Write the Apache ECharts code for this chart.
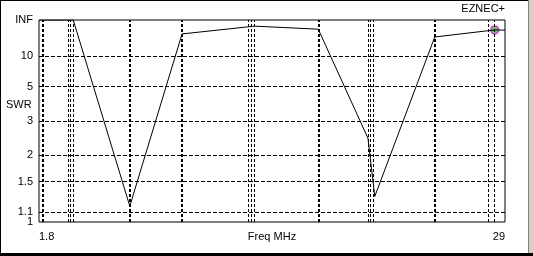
<!DOCTYPE html>
<html>
<head>
<meta charset="utf-8">
<script src="https://cdn.jsdelivr.net/npm/echarts@6/dist/echarts.min.js"></script>
<style>
html,body{margin:0;padding:0;background:#fff;}
#c{width:533px;height:256px;}
</style>
</head>
<body>
<div id="c"></div>
<script>
// ---- data ----
const freqs = [1.8, 3.8, 7.1, 10.15, 14.0, 14.35, 18.1, 21.0, 21.4, 24.9, 28.4, 29.0];
const swrValues = [Infinity, Infinity, 1.17, 28, 58, 65, 43, 2.42, 1.29, 22.8, 39.6, 39];
const markerFreq = [28.4];
const markerSwr = [39.6];
const swrTicks = [1, 1.1, 1.5, 2, 3, 5, 10, Infinity];
const swrTickLabels = ['1', '1.1', '1.5', '2', '3', '5', '10', 'INF'];
const thickBandLines = [2.0, 7.1, 10.15, 18.1, 24.9];
const thinBandLines = [3.5, 3.65, 3.8, 14.0, 14.175, 14.35, 21.0, 21.16, 21.33, 28.0, 28.4];
const xTickValues = [1.8, 29];
const xMin = 1.8, xMax = 29;

// SWR -> reflection coefficient (the chart's vertical scale)
function rho(s) { return isFinite(s) ? (s - 1) / (s + 1) : 1; }

const lineData = freqs.map((f, i) => [f, rho(swrValues[i])]);
const markerData = markerFreq.map((f, i) => [f, rho(markerSwr[i])]);
const rhoTicks = swrTicks.map(rho);

const FONT = 'Liberation Sans, Arial, sans-serif';
const tickLabelStyle = {show: true, position: 'start', distance: 6, color: '#000', fontFamily: FONT, fontSize: 11};

const chart = echarts.init(document.getElementById('c'), null, {renderer: 'canvas'});
chart.setOption({
  animation: false,
  backgroundColor: '#ffffff',
  grid: {left: 39, top: 20, width: 466, height: 202, show: true, borderColor: '#000', borderWidth: 1,
         backgroundColor: 'transparent', outerBoundsMode: 'none', containLabel: false},
  xAxis: {
    type: 'value', min: xMin, max: xMax,
    name: 'Freq MHz', nameLocation: 'middle', nameGap: 9, nameMoveOverlap: false,
    nameTextStyle: {fontFamily: FONT, fontSize: 11, color: '#000', verticalAlign: 'top'},
    axisLine: {show: false}, axisTick: {show: false}, splitLine: {show: false},
    axisLabel: {
      customValues: xTickValues, margin: 9, color: '#000', fontFamily: FONT, fontSize: 11,
      alignMinLabel: 'left', alignMaxLabel: 'right', hideOverlap: false,
      formatter: v => String(v)
    }
  },
  yAxis: {
    type: 'value', min: 0, max: 1,
    axisLine: {show: false}, axisTick: {show: false}, splitLine: {show: false},
    axisLabel: {show: false}
  },
  graphic: [
    {type: 'rect', shape: {x: 0, y: 0, width: 533, height: 1}, style: {fill: '#000'}, silent: true},
    {type: 'rect', shape: {x: 0, y: 0, width: 1, height: 256}, style: {fill: '#000'}, silent: true},
    {type: 'rect', shape: {x: 528, y: 0, width: 1, height: 256}, style: {fill: '#808080'}, silent: true},
    {type: 'rect', shape: {x: 529, y: 0, width: 4, height: 256}, style: {fill: '#d4d0c8'}, silent: true},
    {type: 'rect', shape: {x: 0, y: 253, width: 533, height: 3}, style: {fill: '#000'}, silent: true},
    {type: 'text', right: 28, top: 3, style: {text: 'EZNEC+', fill: '#000', font: '11px ' + FONT}},
    {type: 'text', left: 6, top: 99, style: {text: 'SWR', fill: '#000', font: '11px ' + FONT}}
  ],
  series: [
    {
      type: 'line', data: [], silent: true,
      markLine: {
        silent: true, symbol: 'none', animation: false,
        label: {show: false},
        data: [
          ...rhoTicks.map((r, i) => ({
            yAxis: r,
            lineStyle: (i === 0 || i === rhoTicks.length - 1)
              ? {color: 'rgba(0,0,0,0)', width: 1}
              : {color: '#000', width: 1, type: [4, 2]},
            label: Object.assign({formatter: swrTickLabels[i]}, tickLabelStyle)
          })),
          ...thickBandLines.map(f => ({xAxis: f, lineStyle: {color: '#000', width: 2, type: [3, 2]}})),
          ...thinBandLines.map(f => ({xAxis: f, lineStyle: {color: '#000', width: 1, type: [3, 2]}}))
        ]
      }
    },
    {
      type: 'line', data: lineData, symbol: 'none', silent: true,
      lineStyle: {color: '#000', width: 1}
    },
    {
      type: 'scatter', data: markerData, symbol: 'circle', symbolSize: 8, silent: true,
      itemStyle: {color: '#30c030', borderColor: '#ff00ff', borderWidth: 1.5}
    }
  ]
});
</script>
</body>
</html>
